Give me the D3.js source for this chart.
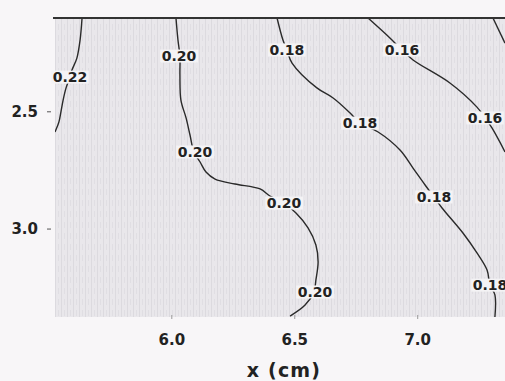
<!DOCTYPE html>
<html>
<head>
<meta charset="utf-8">
<script src="https://cdn.jsdelivr.net/npm/d3@7"></script>
<style>
  body { margin: 0; background: #f8f6f8; }
  svg { display: block; }
</style>
</head>
<body>
<svg id="chart" width="505" height="381"></svg>
<script>
// Axis extents and ticks
const xDomain = [5.525, 7.355];
const yDomain = [2.1, 3.375];
const xTicks = [6.0, 6.5, 7.0];
const yTicks = [2.5, 3.0];

// Contour levels and their traced paths, as [x (cm), y] pairs
const levels = [0.22, 0.20, 0.18, 0.16, 0.14];

const contour022 = [
  [5.635, 2.100], [5.627, 2.194], [5.614, 2.271], [5.594, 2.322], [5.586, 2.352],
  [5.570, 2.398], [5.558, 2.450], [5.549, 2.501], [5.541, 2.543], [5.525, 2.586]
];

const contour020 = [
  [6.017, 2.100], [6.025, 2.194], [6.033, 2.262], [6.033, 2.343], [6.037, 2.450],
  [6.058, 2.526], [6.074, 2.599], [6.090, 2.671], [6.115, 2.714], [6.139, 2.757],
  [6.176, 2.787], [6.257, 2.808], [6.359, 2.829], [6.399, 2.859], [6.456, 2.889],
  [6.505, 2.932], [6.554, 2.995], [6.586, 3.068], [6.595, 3.140], [6.586, 3.217],
  [6.578, 3.268], [6.542, 3.324], [6.481, 3.371]
];

const contour018 = [
  [6.428, 2.100], [6.452, 2.194], [6.468, 2.236], [6.489, 2.292], [6.590, 2.398],
  [6.656, 2.441], [6.725, 2.505], [6.765, 2.548], [6.839, 2.586], [6.928, 2.663],
  [6.981, 2.740], [7.030, 2.812], [7.066, 2.863], [7.099, 2.910], [7.184, 3.017],
  [7.241, 3.102], [7.282, 3.175], [7.294, 3.239], [7.314, 3.281], [7.314, 3.375]
];

const contour016 = [
  [6.798, 2.100], [6.887, 2.185], [6.936, 2.236], [6.981, 2.279], [7.131, 2.377],
  [7.241, 2.480], [7.274, 2.526], [7.302, 2.569], [7.355, 2.671]
];

const contour014 = [
  [7.306, 2.100], [7.355, 2.207]
];

const contours = [contour022, contour020, contour018, contour016, contour014];

// Inline labels: level value and where it sits on its line
const labelLevels = [0.22, 0.20, 0.20, 0.20, 0.20, 0.18, 0.18, 0.18, 0.18, 0.16, 0.16];
const labelX = [5.586, 6.029, 6.094, 6.456, 6.582, 6.468, 6.765, 7.066, 7.294, 6.936, 7.274];
const labelY = [2.352, 2.262, 2.671, 2.889, 3.268, 2.236, 2.548, 2.863, 3.239, 2.236, 2.526];

const xTitle = "x (cm)";

// ---------------------------------------------------------------
const svg = d3.select("#chart");
const plot = { left: 55, top: 18, right: 505, bottom: 317 };

const x = d3.scaleLinear().domain(xDomain).range([plot.left, plot.right]);
const y = d3.scaleLinear().domain(yDomain).range([plot.top, plot.bottom]);

const defs = svg.append("defs");

// Fine vertical screen tone of the plot area
const tone = defs.append("pattern")
  .attr("id", "tone")
  .attr("patternUnits", "userSpaceOnUse")
  .attr("width", 6).attr("height", 11);
tone.append("rect").attr("width", 6).attr("height", 11).attr("fill", "#e9e7eb");
tone.append("rect").attr("x", 1).attr("width", 1).attr("height", 11).attr("fill", "#dcdadf");
tone.append("rect").attr("x", 4).attr("y", 2).attr("width", 1).attr("height", 6).attr("fill", "#e0dee3");

defs.append("clipPath").attr("id", "plotClip")
  .append("rect")
  .attr("x", plot.left).attr("y", plot.top)
  .attr("width", plot.right - plot.left)
  .attr("height", plot.bottom - plot.top);

svg.append("rect")
  .attr("x", plot.left).attr("y", plot.top)
  .attr("width", plot.right - plot.left)
  .attr("height", plot.bottom - plot.top)
  .attr("fill", "url(#tone)");

// Contour lines
const line = d3.line()
  .x(d => x(d[0]))
  .y(d => y(d[1]))
  .curve(d3.curveCatmullRom.alpha(0.5));

svg.append("g")
  .attr("clip-path", "url(#plotClip)")
  .selectAll("path")
  .data(contours)
  .join("path")
  .attr("d", line)
  .attr("fill", "none")
  .attr("stroke", "#2a2a2a")
  .attr("stroke-width", 1.4)
  .attr("stroke-linejoin", "round");

// Top frame line
svg.append("line")
  .attr("x1", plot.left - 2).attr("x2", plot.right)
  .attr("y1", plot.top).attr("y2", plot.top)
  .attr("stroke", "#333")
  .attr("stroke-width", 2);

// Contour labels with a light box that breaks the line
const fmt = d3.format(".2f");
const labels = svg.append("g").selectAll("g")
  .data(labelLevels.map((v, i) => ({ v, x: labelX[i], y: labelY[i] })))
  .join("g")
  .attr("transform", d => `translate(${x(d.x)},${y(d.y)})`);

labels.append("text")
  .attr("text-anchor", "middle")
  .attr("dy", "0.36em")
  .attr("font-family", "DejaVu Sans, sans-serif")
  .attr("font-weight", "bold")
  .attr("font-size", 14)
  .attr("fill", "#222")
  .text(d => fmt(d.v));

labels.each(function () {
  const g = d3.select(this);
  const bb = g.select("text").node().getBBox();
  g.insert("rect", "text")
    .attr("x", bb.x - 1.5).attr("y", bb.y + 1.5)
    .attr("width", bb.width + 3).attr("height", bb.height - 3)
    .attr("fill", "#f4f3f5");
});

// Y axis (values grow downward)
const yAxis = svg.append("g");
yAxis.selectAll("line")
  .data(yTicks)
  .join("line")
  .attr("x1", plot.left - 8).attr("x2", plot.left - 4)
  .attr("y1", d => y(d)).attr("y2", d => y(d))
  .attr("stroke", "#555").attr("stroke-width", 1);
yAxis.selectAll("text")
  .data(yTicks)
  .join("text")
  .attr("x", 38)
  .attr("y", d => y(d))
  .attr("dy", "0.36em")
  .attr("text-anchor", "end")
  .attr("font-family", "DejaVu Sans, sans-serif")
  .attr("font-weight", "bold")
  .attr("font-size", 15)
  .attr("fill", "#222")
  .text(d => d.toFixed(1));

// X axis
const xAxis = svg.append("g");
xAxis.selectAll("line")
  .data(xTicks)
  .join("line")
  .attr("x1", d => x(d)).attr("x2", d => x(d))
  .attr("y1", plot.bottom - 2).attr("y2", plot.bottom + 2)
  .attr("stroke", "#9a9a9a").attr("stroke-width", 1);
xAxis.selectAll("text")
  .data(xTicks)
  .join("text")
  .attr("x", d => x(d))
  .attr("y", 345)
  .attr("text-anchor", "middle")
  .attr("font-family", "DejaVu Sans, sans-serif")
  .attr("font-weight", "bold")
  .attr("font-size", 15)
  .attr("fill", "#222")
  .text(d => d.toFixed(1));

svg.append("text")
  .attr("x", 284)
  .attr("y", 377)
  .attr("text-anchor", "middle")
  .attr("font-family", "DejaVu Sans, sans-serif")
  .attr("font-weight", "bold")
  .attr("font-size", 19)
  .attr("letter-spacing", 1.2)
  .attr("fill", "#222")
  .text(xTitle);
</script>
</body>
</html>
